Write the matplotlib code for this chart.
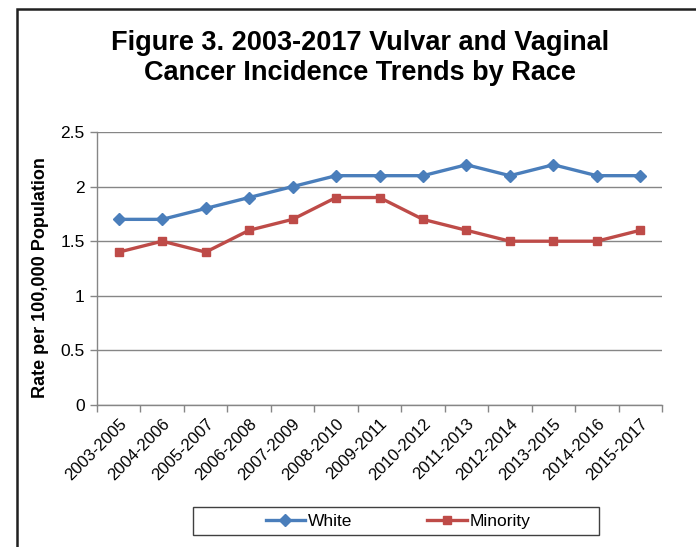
import matplotlib.pyplot as plt
from matplotlib.patches import Rectangle
from matplotlib.ticker import FixedLocator

plt.rcParams['font.family'] = ['Liberation Sans', 'DejaVu Sans']

# three-year rolling periods
periods = ['2003-2005', '2004-2006', '2005-2007', '2006-2008', '2007-2009',
           '2008-2010', '2009-2011', '2010-2012', '2011-2013', '2012-2014',
           '2013-2015', '2014-2016', '2015-2017']
white = [1.7, 1.7, 1.8, 1.9, 2.0, 2.1, 2.1, 2.1, 2.2, 2.1, 2.2, 2.1, 2.1]
minority = [1.4, 1.5, 1.4, 1.6, 1.7, 1.9, 1.9, 1.7, 1.6, 1.5, 1.5, 1.5, 1.6]
y_ticks = [0, 0.5, 1, 1.5, 2, 2.5]
y_tick_labels = ['0', '0.5', '1', '1.5', '2', '2.5']

W, H = 696, 547
fig = plt.figure(figsize=(W / 100, H / 100), dpi=100)
ax = fig.add_axes([97 / W, 1 - 405 / H, 565 / W, 273 / H])

x = list(range(len(periods)))
ax.plot(x, white, color='#4A7EBB', lw=2.4, marker='D', ms=6, label='White')
ax.plot(x, minority, color='#BE4B48', lw=2.4, marker='s', ms=6.2, label='Minority')

ax.set_xlim(-0.5, len(periods) - 0.5)
ax.set_ylim(0, 2.5)
ax.set_yticks(y_ticks)
ax.set_yticklabels(y_tick_labels, fontsize=12.5)
ax.set_xticks(x)
ax.set_xticklabels(periods, rotation=45, ha='right', rotation_mode='anchor', fontsize=12)
ax.tick_params(axis='x', length=0, pad=8)
ax.xaxis.set_minor_locator(FixedLocator([i - 0.5 for i in range(len(periods) + 1)]))
ax.tick_params(axis='x', which='minor', length=5, color='#868686', width=1)
ax.tick_params(axis='y', length=5, color='#868686', width=1, pad=4)

ax.grid(axis='y', color='#868686', lw=1)
ax.set_axisbelow(True)
for side in ['top', 'right']:
    ax.spines[side].set_visible(False)
for side in ['left', 'bottom']:
    ax.spines[side].set_color('#868686')
    ax.spines[side].set_linewidth(1)

fig.text(360 / W, 1 - 58 / H,
         'Figure 3. 2003-2017 Vulvar and Vaginal\nCancer Incidence Trends by Race',
         ha='center', va='center', fontsize=19.5, fontweight='bold', linespacing=1.22)
fig.text(41 / W, 1 - 278 / H, 'Rate per 100,000 Population', rotation=90,
         ha='center', va='center', fontsize=13, fontweight='bold')

# legend box drawn separately so the entries stay centred in a wide frame
fig.patches.append(Rectangle((193 / W, 1 - 535 / H), 406 / W, 28 / H,
                             transform=fig.transFigure, fill=False,
                             edgecolor='#404040', lw=1))
fig.legend(loc='center', bbox_to_anchor=(398 / W, 1 - 521 / H), ncol=2,
           frameon=False, fontsize=12.5, handlelength=2.3, handletextpad=0.15,
           columnspacing=4.3)

# outer chart border, running off the right and bottom edges
fig.patches.append(Rectangle((17 / W, -0.1), 1.2, 1 - 9 / H + 0.1,
                             transform=fig.transFigure, fill=False,
                             edgecolor='#202020', lw=1.8))

fig.savefig('out.png', dpi=100)
